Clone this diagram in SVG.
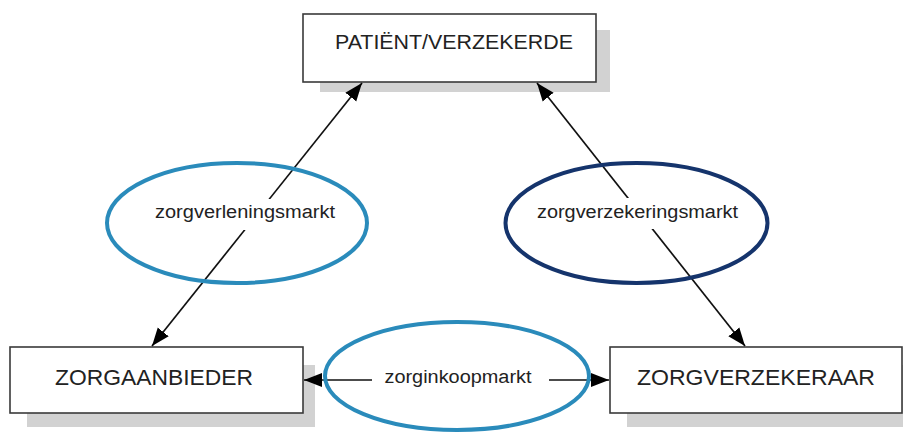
<svg xmlns="http://www.w3.org/2000/svg" width="903" height="432" viewBox="0 0 903 432">
<defs>
<style>
.box{fill:#fff;stroke:#3a3a3a;stroke-width:1.6}
.shadow{fill:#d2d2d2}
.btxt{font-family:"Liberation Sans",Arial,sans-serif;fill:#222;text-anchor:middle}
.ltxt{font-family:"Liberation Sans",Arial,sans-serif;font-size:18px;fill:#222;text-anchor:middle}
.line{stroke:#111;stroke-width:1.7;fill:none}
.bg{fill:#fff}
.ell{fill:none;stroke-width:4}
</style>
<marker id="ah" markerUnits="userSpaceOnUse" markerWidth="20" markerHeight="16" refX="18" refY="8" orient="auto-start-reverse" viewBox="0 0 20 16">
<path d="M0,1 L18,8 L0,15 Z" fill="#000"/>
</marker>
</defs>
<rect width="903" height="432" fill="#fff"/>
<g id="node-patient">
<rect class="shadow" x="320" y="30" width="290" height="62"/>
<rect class="box" x="303" y="14" width="293" height="68"/>
<text class="btxt" x="454" y="49" font-size="20" textLength="238" lengthAdjust="spacingAndGlyphs">PATIËNT/VERZEKERDE</text>
</g>
<g id="node-zorgaanbieder">
<rect class="shadow" x="27" y="365" width="288" height="62"/>
<rect class="box" x="10" y="347" width="293" height="66"/>
<text class="btxt" x="154" y="385" font-size="22" textLength="198" lengthAdjust="spacingAndGlyphs">ZORGAANBIEDER</text>
</g>
<g id="node-zorgverzekeraar">
<rect class="shadow" x="627" y="365" width="276" height="62"/>
<rect class="box" x="610" y="347" width="292" height="66"/>
<text class="btxt" x="756" y="385" font-size="22" textLength="238" lengthAdjust="spacingAndGlyphs">ZORGVERZEKERAAR</text>
</g>
<g id="connectors">
<line class="line" x1="362" y1="83" x2="152" y2="346" marker-start="url(#ah)" marker-end="url(#ah)"/>
<line class="line" x1="537" y1="83" x2="745" y2="346" marker-start="url(#ah)" marker-end="url(#ah)"/>
<line class="line" x1="304" y1="380" x2="609" y2="380" marker-start="url(#ah)" marker-end="url(#ah)"/>
</g>
<g id="market-zorgverlening">
<rect class="bg" x="152" y="199" width="186" height="31"/>
<ellipse class="ell" stroke="#2a8bbb" cx="237" cy="223" rx="130" ry="60"/>
<text class="ltxt" x="245" y="218" textLength="180" lengthAdjust="spacingAndGlyphs">zorgverleningsmarkt</text>
</g>
<g id="market-zorgverzekering">
<rect class="bg" x="533" y="198" width="209" height="31"/>
<ellipse class="ell" stroke="#15346c" cx="636.5" cy="223" rx="131" ry="60"/>
<text class="ltxt" x="637.5" y="218" textLength="201" lengthAdjust="spacingAndGlyphs">zorgverzekeringsmarkt</text>
</g>
<g id="market-zorginkoop">
<rect class="bg" x="372" y="366" width="177" height="26"/>
<ellipse class="ell" stroke="#2a8bbb" cx="457" cy="376" rx="132" ry="54"/>
<text class="ltxt" x="458" y="383" textLength="147" lengthAdjust="spacingAndGlyphs">zorginkoopmarkt</text>
</g>
</svg>
